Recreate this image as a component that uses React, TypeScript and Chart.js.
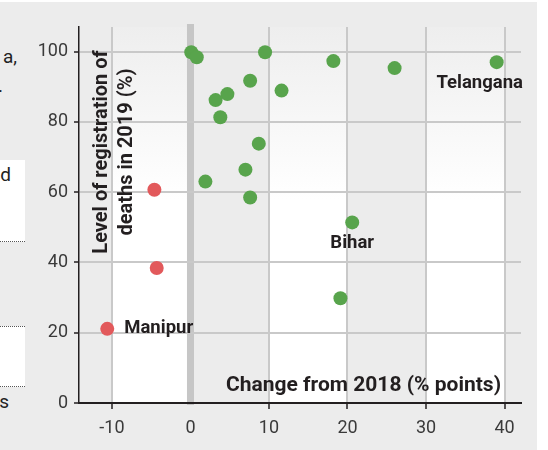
import React, { useEffect, useRef } from 'react';
import { Chart, registerables } from 'chart.js';

Chart.register(...registerables);

// Change from 2018 (% points) and level of registration in 2019 (%)
const improvedX = [0.1, 0.8, 9.5, 7.6, 11.6, 4.7, 3.2, 3.8, 8.7, 7.0, 1.9, 7.6, 18.2, 26.0, 39.0, 20.6, 19.1];
const improvedY = [99.8, 98.4, 99.8, 91.7, 88.9, 87.9, 86.2, 81.3, 73.8, 66.4, 63.0, 58.5, 97.3, 95.3, 97.0, 51.4, 29.8];
const declinedX = [-4.6, -4.3, -10.6];
const declinedY = [60.7, 38.4, 21.1];

const xTicks = [-10, 0, 10, 20, 30, 40];
const yTicks = [0, 20, 40, 60, 80, 100];
const whiteBands = [[-10, 0], [10, 20], [30, 40]];

const stateNames = ['Telangana', 'Bihar', 'Manipur'];
const stateX = [39.0, 20.6, -10.6];
const stateY = [97.0, 51.4, 21.1];

const xTitle = 'Change from 2018 (% points)';
const yTitleLines = ['Level of registration of', 'deaths in 2019 (%)'];

const GREEN = '#58a44c';
const RED = '#e2595b';
const INK = '#231f20';
const GRID = '#c9c9c9';
const TICKFONT = 'Roboto, "Liberation Sans", sans-serif';
const BOLDFONT = 'Roboto, "Liberation Sans", sans-serif';

const bgPlugin = {
  id: 'bgBands',
  beforeDraw(chart: any) {
    const { ctx, chartArea } = chart;
    const { top, bottom } = chartArea;
    const xs = chart.scales.x;
    ctx.save();
    const grad = ctx.createLinearGradient(0, top, 0, bottom);
    grad.addColorStop(0, '#eeeeee');
    grad.addColorStop(Math.min(1, (200 - top) / (bottom - top)), '#ffffff');
    grad.addColorStop(1, '#ffffff');
    ctx.fillStyle = grad;
    whiteBands.forEach(([a, b]) => {
      const x0 = xs.getPixelForValue(a);
      const x1 = xs.getPixelForValue(b);
      ctx.fillRect(x0, top, x1 - x0, bottom - top);
    });
    const z = xs.getPixelForValue(0);
    ctx.fillStyle = '#c6c6c6';
    ctx.fillRect(z - 3.5, top - 3, 7, bottom - top + 5);
    ctx.restore();
  },
};

const textPlugin = {
  id: 'texts',
  afterDatasetsDraw(chart: any) {
    const { ctx, chartArea } = chart;
    const xs = chart.scales.x;
    const ys = chart.scales.y;
    ctx.save();
    ctx.fillStyle = INK;
    // state labels
    ctx.font = `bold 18.5px ${BOLDFONT}`;
    ctx.textBaseline = 'middle';
    const offs = [
      { dx: -17, dy: 21, align: 'center' },
      { dx: 0, dy: 21, align: 'center' },
      { dx: 17, dy: 0, align: 'left' },
    ];
    stateNames.forEach((n, i) => {
      const px = xs.getPixelForValue(stateX[i]);
      const py = ys.getPixelForValue(stateY[i]);
      ctx.textAlign = offs[i].align;
      ctx.fillText(n, px + offs[i].dx, py + offs[i].dy);
    });
    // x title
    ctx.font = `bold 21px ${BOLDFONT}`;
    ctx.textAlign = 'right';
    ctx.textBaseline = 'alphabetic';
    ctx.fillText(xTitle, chartArea.right - 20, chartArea.bottom - 12);
    // y title
    ctx.font = `bold 20px ${BOLDFONT}`;
    ctx.textAlign = 'center';
    const cy = 152;
    ctx.translate(chartArea.left, cy);
    ctx.rotate(-Math.PI / 2);
    ctx.fillText(yTitleLines[0], 0, 28);
    ctx.fillText(yTitleLines[1], 0, 52.5);
    ctx.restore();
  },
};

export default function App() {
  const ref = useRef<HTMLCanvasElement>(null);
  useEffect(() => {
    if (!ref.current) return;
    const chart = new Chart(ref.current, {
      type: 'scatter',
      data: {
        datasets: [
          {
            data: improvedX.map((x, i) => ({ x, y: improvedY[i] })),
            backgroundColor: GREEN,
            borderWidth: 0,
            pointRadius: 7,
            pointHoverRadius: 7,
          },
          {
            data: declinedX.map((x, i) => ({ x, y: declinedY[i] })),
            backgroundColor: RED,
            borderWidth: 0,
            pointRadius: 7,
            pointHoverRadius: 7,
          },
        ],
      },
      options: {
        animation: false,
        responsive: false,
        devicePixelRatio: 1,
        events: [],
        layout: { padding: { top: 27, right: 27, left: 0, bottom: 0 } },
        plugins: { legend: { display: false }, tooltip: { enabled: false } },
        scales: {
          x: {
            type: 'linear',
            min: -14.2,
            max: 42.1,
            afterBuildTicks: (s: any) => {
              s.ticks = xTicks.map((v) => ({ value: v }));
            },
            afterFit: (s: any) => {
              s.height = 47;
            },
            grid: {
              color: (c: any) => (c.tick && c.tick.value === 0 ? 'rgba(0,0,0,0)' : GRID),
              lineWidth: 2,
              tickColor: (c: any) => (c.tick && c.tick.value === 0 ? 'rgba(0,0,0,0)' : INK),
              tickLength: 6,
              tickWidth: 1.5,
            },
            border: { color: INK, width: 2 },
            ticks: {
              font: { family: TICKFONT, size: 18 },
              color: '#3a3a3a',
              padding: 9,
              maxRotation: 0,
              autoSkip: false,
            },
          },
          y: {
            type: 'linear',
            min: 0,
            max: 107,
            afterBuildTicks: (s: any) => {
              s.ticks = yTicks.map((v) => ({ value: v }));
            },
            afterFit: (s: any) => {
              s.width = 79;
            },
            grid: {
              color: (c: any) => (c.tick && c.tick.value === 0 ? 'rgba(0,0,0,0)' : GRID),
              lineWidth: 2,
              tickColor: INK,
              tickLength: 5,
              tickWidth: 1.5,
            },
            border: { color: INK, width: 1.5 },
            ticks: {
              font: { family: TICKFONT, size: 18 },
              color: '#3a3a3a',
              padding: 6,
              autoSkip: false,
            },
          },
        },
      } as any,
      plugins: [bgPlugin, textPlugin],
    });
    return () => chart.destroy();
  }, []);

  const side: React.CSSProperties = {
    position: 'absolute',
    fontFamily: 'Roboto, "Liberation Sans", sans-serif',
    fontSize: 19,
    color: '#222',
    lineHeight: '20px',
    whiteSpace: 'nowrap',
  };

  return (
    <div style={{ position: 'absolute', left: 0, top: 0, width: 548, height: 450, background: '#fff', overflow: 'hidden' }}>
      <div style={{ position: 'absolute', left: 0, top: 2, width: 537, height: 448, background: '#ececec' }} />
      <div style={{ position: 'absolute', left: 0, top: 160, width: 25, height: 81, background: '#fff', borderBottom: '1px dotted #555' }} />
      <div style={{ position: 'absolute', left: 0, top: 326, width: 25, height: 59, background: '#fff', borderTop: '1px dotted #555', borderBottom: '1px dotted #555' }} />
      <div style={{ ...side, right: 548 - 17, top: 47, textAlign: 'right' }}>a,</div>
      <div style={{ ...side, right: 548 - 3, top: 76, textAlign: 'right' }}>.</div>
      <div style={{ ...side, right: 548 - 11, top: 165, textAlign: 'right' }}>d</div>
      <div style={{ ...side, right: 548 - 9, top: 392, textAlign: 'right' }}>s</div>
      <canvas ref={ref} width={548} height={450} style={{ position: 'absolute', left: 0, top: 0 }} />
    </div>
  );
}
